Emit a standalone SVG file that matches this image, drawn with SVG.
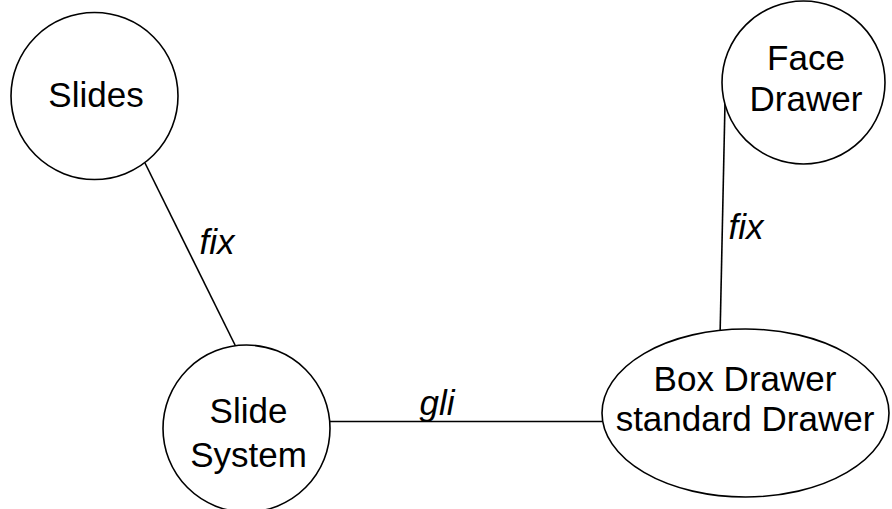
<svg xmlns="http://www.w3.org/2000/svg" width="892" height="509" viewBox="0 0 892 509">
<style>
.n{fill:#fff;stroke:#000;stroke-width:1.6}
.e{stroke:#000;stroke-width:1.6;fill:none}
text{font-family:"Liberation Sans",Arial,sans-serif;font-size:35px;fill:#000;text-anchor:middle}
.l{font-style:italic}
</style>
<rect width="892" height="509" fill="#fff"/>
<g id="connectors">
<line class="e" x1="145" y1="163" x2="236" y2="347"/>
<line class="e" x1="725" y1="103" x2="720" y2="338"/>
<line class="e" x1="328" y1="421.5" x2="602" y2="421.5"/>
<text class="l" x="217" y="254">fix</text>
<text class="l" x="746" y="239">fix</text>
<text class="l" x="437" y="415">gli</text>
</g>
<g id="slides">
<circle class="n" cx="94.5" cy="96" r="83.5"/>
<text x="96" y="107">Slides</text>
</g>
<g id="face-drawer">
<circle class="n" cx="803.5" cy="82.5" r="81.5"/>
<text x="806" y="70">Face</text>
<text x="806" y="111">Drawer</text>
</g>
<g id="slide-system">
<circle class="n" cx="246.5" cy="428.5" r="83.5"/>
<text x="248.5" y="423">Slide</text>
<text x="248.5" y="467">System</text>
</g>
<g id="box-drawer">
<ellipse class="n" cx="745.5" cy="413" rx="143.5" ry="84"/>
<text x="745" y="391">Box Drawer</text>
<text x="745" y="431">standard Drawer</text>
</g>
</svg>
